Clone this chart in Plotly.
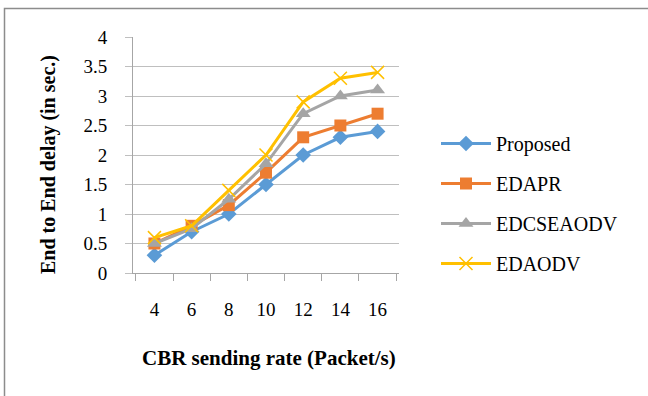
import plotly.graph_objects as go

# CBR sending rate (packets/s) and end-to-end delay (s) per protocol
rates = ["4", "6", "8", "10", "12", "14", "16"]
proposed = [0.3, 0.7, 1.0, 1.5, 2.0, 2.3, 2.4]
edapr = [0.5, 0.8, 1.15, 1.7, 2.3, 2.5, 2.7]
edcseaodv = [0.5, 0.75, 1.25, 1.85, 2.7, 3.0, 3.1]
edaodv = [0.6, 0.8, 1.4, 2.0, 2.9, 3.3, 3.4]

series = [
    ("Proposed", proposed, "#5B9BD5", dict(symbol="diamond", size=12)),
    ("EDAPR", edapr, "#ED7D31", dict(symbol="square", size=12)),
    ("EDCSEAODV", edcseaodv, "#A5A5A5", dict(symbol="triangle-up", size=13)),
    ("EDAODV", edaodv, "#FFC000", dict(symbol="x-thin", size=13, line=dict(width=1.5, color="#FFC000"))),
]

FONT = "'Liberation Serif', 'Times New Roman', serif"

fig = go.Figure()
for name, vals, color, marker in series:
    fig.add_trace(go.Scatter(
        x=rates, y=vals, name=name, mode="lines+markers",
        line=dict(color=color, width=3),
        marker=dict(color=color, **marker),
        legendgroup=name,
    ))

# plot area in pixels: x 133..399, y 37..273
L, R, T, B = 133, 249, 37, 123
W, H = 648, 396
pw, ph = W - L - R, H - T - B

def px(x):
    return (x - L) / pw

def py(y):
    return (H - B - y) / ph

fig.update_layout(
    width=W, height=H,
    margin=dict(l=L, r=R, t=T, b=B),
    paper_bgcolor="white", plot_bgcolor="white",
    font=dict(family=FONT, color="#000000"),
    showlegend=True,
    legend=dict(
        x=px(436), y=py(124), xanchor="left", yanchor="top",
        font=dict(family=FONT, size=20),
        tracegroupgap=11, itemwidth=50,
        bgcolor="rgba(0,0,0,0)",
    ),
    xaxis=dict(
        type="category",
        showgrid=False,
        showline=True, linecolor="#A6A6A6", linewidth=1,
        ticks="outside", tickson="boundaries", ticklen=7,
        tickcolor="#A6A6A6", tickwidth=1,
        tickfont=dict(family=FONT, size=19),
        ticklabelstandoff=19,
    ),
    yaxis=dict(
        range=[0, 4], dtick=0.5, tickformat="~g",
        showgrid=True, gridcolor="#BFBFBF", gridwidth=1,
        zeroline=False,
        showline=True, linecolor="#A6A6A6", linewidth=1,
        ticks="outside", ticklen=7, tickcolor="#BFBFBF",
        tickfont=dict(family=FONT, size=19),
        ticklabelstandoff=14,
    ),
    annotations=[
        dict(text="<b>End to End delay (in sec.)</b>", textangle=-90,
             xref="paper", yref="paper", x=px(48), y=py(165),
             xanchor="center", yanchor="middle", showarrow=False,
             font=dict(family=FONT, size=20)),
        dict(text="<b>CBR sending rate (Packet/s)</b>",
             xref="paper", yref="paper", x=px(269), y=py(358),
             xanchor="center", yanchor="middle", showarrow=False,
             font=dict(family=FONT, size=21)),
    ],
    shapes=[
        dict(type="rect", xref="paper", yref="paper",
             x0=px(4.5), x1=px(700), y0=py(450), y1=py(8.5),
             line=dict(color="#8C8C8C", width=1.5), fillcolor="rgba(0,0,0,0)",
             layer="below"),
    ],
)

fig.write_html("out.html")
